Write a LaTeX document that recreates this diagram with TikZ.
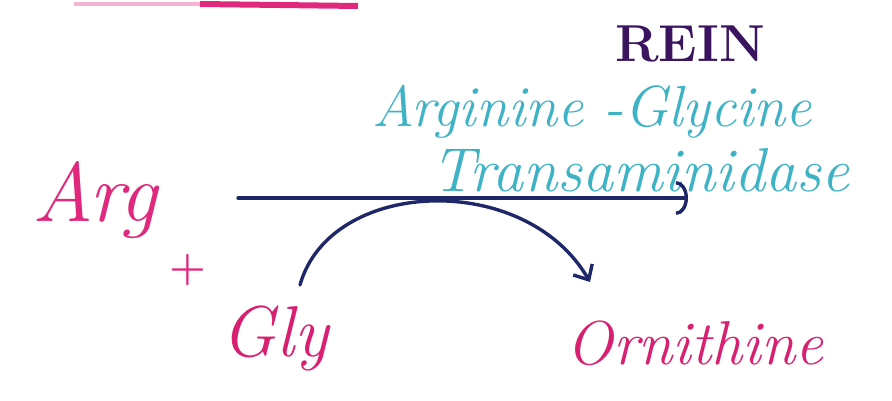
\documentclass[tikz,border=0pt]{standalone}
\usetikzlibrary{arrows.meta}
\definecolor{pinkA}{HTML}{E0287C}
\definecolor{pinkB}{HTML}{D82070}
\definecolor{cyanA}{HTML}{3FB3C6}
\definecolor{navyA}{HTML}{1E2868}
\definecolor{purpA}{HTML}{3A145E}
\begin{document}
\begin{tikzpicture}[x=1pt,y=-1pt,
  hand/.style={inner sep=0pt, font=\itshape},
  link/.style={navyA, line width=3.4pt, line cap=round}]
\useasboundingbox (0,0) rectangle (892,401);
\fill[white] (0,0) rectangle (892,401);
% pink underline at top
\draw[pinkA!35, line width=4pt] (74,4) -- (205,4);
\draw[pinkA, line width=6pt] (200,4) -- (358,6);
% texts
\node[inner sep=0pt, purpA, font=\fontsize{52}{52}\selectfont\bfseries] (rein) at (690,44) {REIN};
\node[hand, cyanA, font=\fontsize{58}{58}\selectfont\itshape] (enz1) at (592,112) {Arginine -Glycine};
\node[hand, cyanA, font=\fontsize{62}{62}\selectfont\itshape] (enz2) at (640,170) {Transaminidase};
\node[hand, pinkA, font=\fontsize{84}{84}\selectfont\itshape] (arg) at (95,200) {Arg};
\node[inner sep=0pt, pinkA, font=\fontsize{42}{42}\selectfont\bfseries] (plus) at (188,270) {+};
\node[hand, pinkB, font=\fontsize{72}{72}\selectfont\itshape] (gly) at (275,338) {Gly};
\node[hand, pinkB, font=\fontsize{62}{62}\selectfont\itshape] (orn) at (695,343) {Ornithine};
% main reaction arrow
\coordinate (a0) at (238,198);
\coordinate (a1) at (688,198);
\draw[link, -{Arc Barb[length=12pt,width=34pt]}] (a0) -- (a1);
% curved arrow Gly -> Ornithine
\coordinate (c0) at (300,285);
\coordinate (c1) at (590,282);
\draw[link, -{Straight Barb[length=12pt,width=22pt]}] (c0) .. controls (330,178) and (525,170) .. (c1);
\end{tikzpicture}
\end{document}
